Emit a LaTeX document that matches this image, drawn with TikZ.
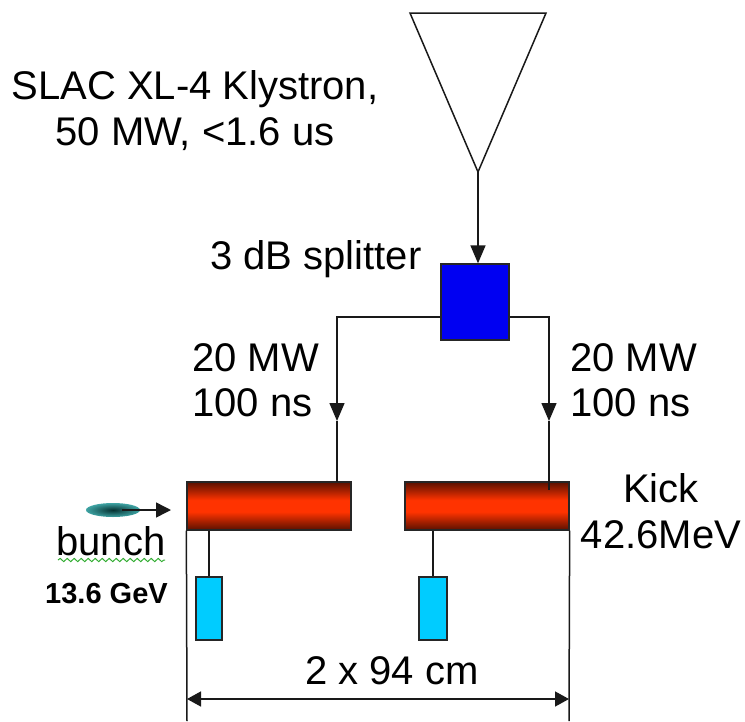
\documentclass[tikz,border=0pt]{standalone}
\usepackage{fontspec}
\setmainfont{Liberation Sans}
\usetikzlibrary{arrows.meta,decorations.pathmorphing,shapes.geometric}
\definecolor{kickred}{HTML}{FF3300}
\definecolor{kickdark}{HTML}{5A1000}
\definecolor{loadblue}{HTML}{00CCFF}
\definecolor{bunchteal}{HTML}{0E8C8C}
\pgfdeclareverticalshading{kickshade}{100bp}{color(0bp)=(kickdark); color(25bp)=(kickdark); color(44bp)=(kickred); color(56bp)=(kickred); color(75bp)=(kickdark); color(100bp)=(kickdark)}
\tikzset{
  splitter/.style = {rectangle, draw=black!85, line width=1.3pt, fill=blue!95!black, minimum width=68pt, minimum height=76pt, inner sep=0},
  kicker/.style   = {rectangle, draw=black!85, line width=1.3pt, shading=kickshade, minimum width=164pt, minimum height=48pt, inner sep=0},
  load/.style     = {rectangle, draw=black!85, line width=1.3pt, fill=loadblue, minimum height=63pt, inner sep=0},
  link/.style     = {line width=1.5pt, black!90},
  feed/.style     = {link, -{Triangle[length=18pt,width=15pt]}},
  dim/.style      = {link, {Triangle[length=14pt,width=15pt]}-{Triangle[length=14pt,width=15pt]}},
  et/.style       = {font=\fontsize{40}{45.5}\selectfont, inner sep=0, align=center},
}
\begin{document}
\begin{tikzpicture}[x=1pt,y=-1pt]
  \useasboundingbox (0,0) rectangle (745,721);
  % klystron
  \coordinate (ka) at (410,13); \coordinate (kb) at (546,13); \coordinate (kc) at (478,172);
  \draw[link, fill=white] (ka)--(kb)--(kc)--cycle;
  \node[et] (kly) at (195,110.5) {SLAC XL-4 Klystron,\\50 MW, <1.6 us};
  % splitter
  \node[splitter] (S) at (475,302) {};
  \node[et] (sl) at (316,259) {3 dB splitter};
  \coordinate (st) at (478,242);
  \draw[feed] (kc)--(st|-S.north);
  \node[kicker] (K1) at (269,506) {};
  \node[kicker] (K2) at (487,506) {};
  % feeds
  \coordinate (sa) at (S.west|-0,317); \coordinate (sb) at (S.east|-0,317);
  \coordinate (ca) at (337,317); \coordinate (cb) at (549,317);
  \coordinate (ta) at (337,421); \coordinate (tb) at (549,421);
  \coordinate (ea) at (337,482); \coordinate (eb) at (549,490);
  \draw[feed] (sa)--(ca)--(ta); \draw[link] (ta)--(ea);
  \draw[feed] (sb)--(cb)--(tb); \draw[link] (tb)--(eb);
  \node[et,anchor=west,align=left] (pl) at (192,380) {20 MW\\100 ns};
  \node[et,anchor=west,align=left] (pr) at (570,380) {20 MW\\100 ns};
  % loads
  \node[load,minimum width=26pt] (L1) at (209,608.5) {};
  \node[load,minimum width=28pt] (L2) at (433,608.5) {};
  \draw[link] (L1.north)--(L1.north|-K1.south);
  \draw[link] (L2.north)--(L2.north|-K2.south);
  % bunch
  \node[ellipse, minimum width=54pt, minimum height=14pt, inner sep=0, inner color=black!65!bunchteal, outer color=bunchteal!80] (B) at (113,510) {};
  \coordinate (ba) at (122,510); \coordinate (bb) at (171,510);
  \draw[link, -{Triangle[length=15pt,width=15pt]}] (ba)--(bb);
  \node[et] (bl) at (111,541) {bunch};
  \coordinate (ua) at (58,560); \coordinate (ub) at (165,560);
  \draw[green!60!black!80, line width=1pt, decorate, decoration={snake,amplitude=1.6pt,segment length=7pt}] (ua)--(ub);
  \node[font=\fontsize{29}{32}\selectfont\bfseries, inner sep=0] (en) at (106.5,594) {13.6 GeV};
  % kick
  \node[et] (ki) at (661,511) {Kick\\42.6MeV};
  % length
  \coordinate (da) at (K1.south west); \coordinate (db) at (K2.south east);
  \coordinate (dc) at (187,721); \coordinate (dd) at (569,721);
  \coordinate (de) at (187,699); \coordinate (df) at (569,699);
  \draw[link] (da)--(dc); \draw[link] (db)--(dd);
  \draw[dim] (de)--(df);
  \node[et] (le) at (392,671) {2 x 94 cm};
\end{tikzpicture}
\end{document}
